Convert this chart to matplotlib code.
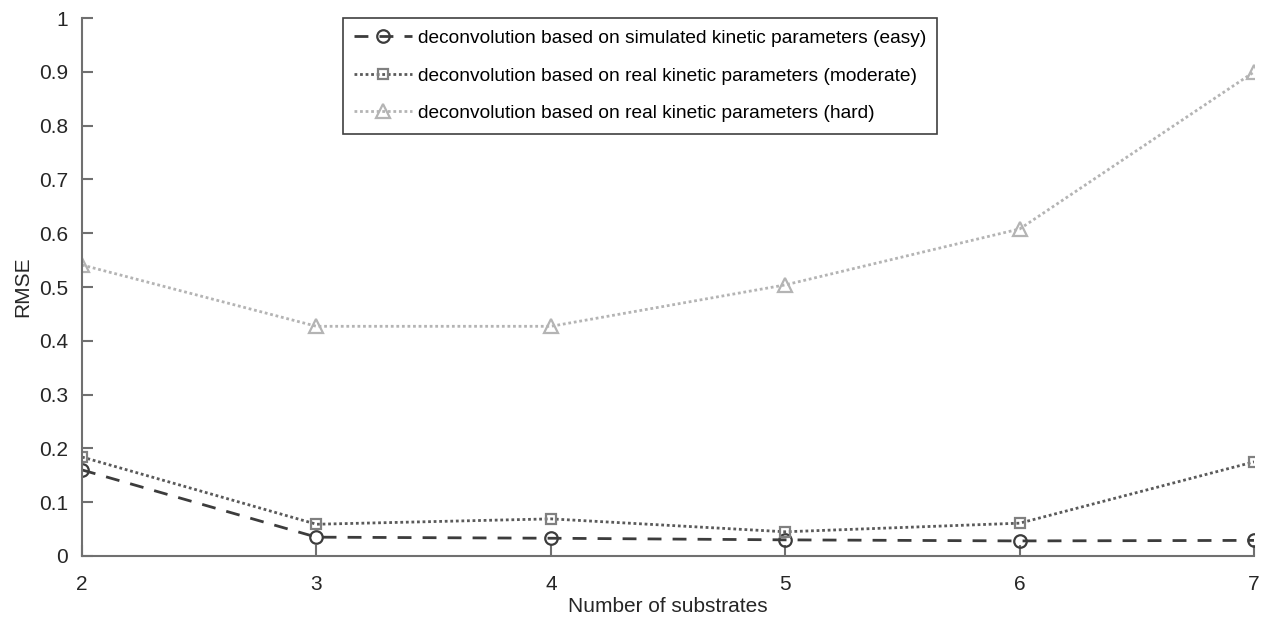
import numpy as np
import matplotlib
matplotlib.use("Agg")
import matplotlib.pyplot as plt

plt.rcParams['font.family'] = ['Liberation Sans', 'DejaVu Sans']

# RMSE per number of substrates
n_substrates = [2, 3, 4, 5, 6, 7]
rmse_easy = [0.160, 0.035, 0.033, 0.030, 0.028, 0.029]
rmse_moderate = [0.184, 0.059, 0.069, 0.045, 0.061, 0.175]
rmse_hard = [0.541, 0.427, 0.427, 0.504, 0.608, 0.900]

labels = ["deconvolution based on simulated kinetic parameters (easy)",
          "deconvolution based on real kinetic parameters (moderate)",
          "deconvolution based on real kinetic parameters (hard)"]

fig = plt.figure(figsize=(12.74, 6.24), dpi=100)
ax = fig.add_axes([0.0644, 0.109, 0.92, 0.862])

ax.plot(n_substrates, rmse_easy, linestyle=(0, (5, 4)), color='#3c3c3c', lw=2,
        marker='o', ms=9, mfc='none', mec='#3c3c3c', mew=1.6, label=labels[0])
ax.plot(n_substrates, rmse_moderate, linestyle=(0, (1, 1)), color='#5a5a5a', lw=2,
        marker='s', ms=7, mfc='none', mec='#808080', mew=1.6, label=labels[1])
ax.plot(n_substrates, rmse_hard, linestyle=(0, (1, 1)), color='#b4b4b4', lw=2,
        marker='^', ms=10, mfc='none', mec='#b4b4b4', mew=1.6, label=labels[2])

ax.set_xlim(2, 7)
ax.set_ylim(0, 1)
ax.set_xticks(n_substrates)
ax.set_yticks(np.arange(0, 1.01, 0.1))
ax.set_yticklabels(['0', '0.1', '0.2', '0.3', '0.4', '0.5', '0.6', '0.7', '0.8', '0.9', '1'])

for side in ['top', 'right']:
    ax.spines[side].set_visible(False)
for side in ['left', 'bottom']:
    ax.spines[side].set_color('#707070')
    ax.spines[side].set_linewidth(1.5)
ax.xaxis.set_tick_params(direction='in', length=8, width=1.5, color='#707070',
                         labelsize=15, labelcolor='#262626', pad=14)
ax.yaxis.set_tick_params(direction='in', length=8, width=1.5, color='#707070',
                         labelsize=15, labelcolor='#262626', pad=10)

ax.set_xlabel("Number of substrates", fontsize=15, color='#262626', labelpad=2)
ax.set_ylabel("RMSE", fontsize=15, color='#262626', labelpad=5)

leg = ax.legend(loc='upper left', bbox_to_anchor=(0.2225, 1.0), borderaxespad=0,
                fontsize=13.8, handlelength=3.0, handletextpad=0.3, borderpad=0.6,
                labelspacing=1.05, fancybox=False, framealpha=1)
leg.get_frame().set_edgecolor('#404040')
leg.get_frame().set_linewidth(1.2)

plt.savefig("out.png", dpi=100)
